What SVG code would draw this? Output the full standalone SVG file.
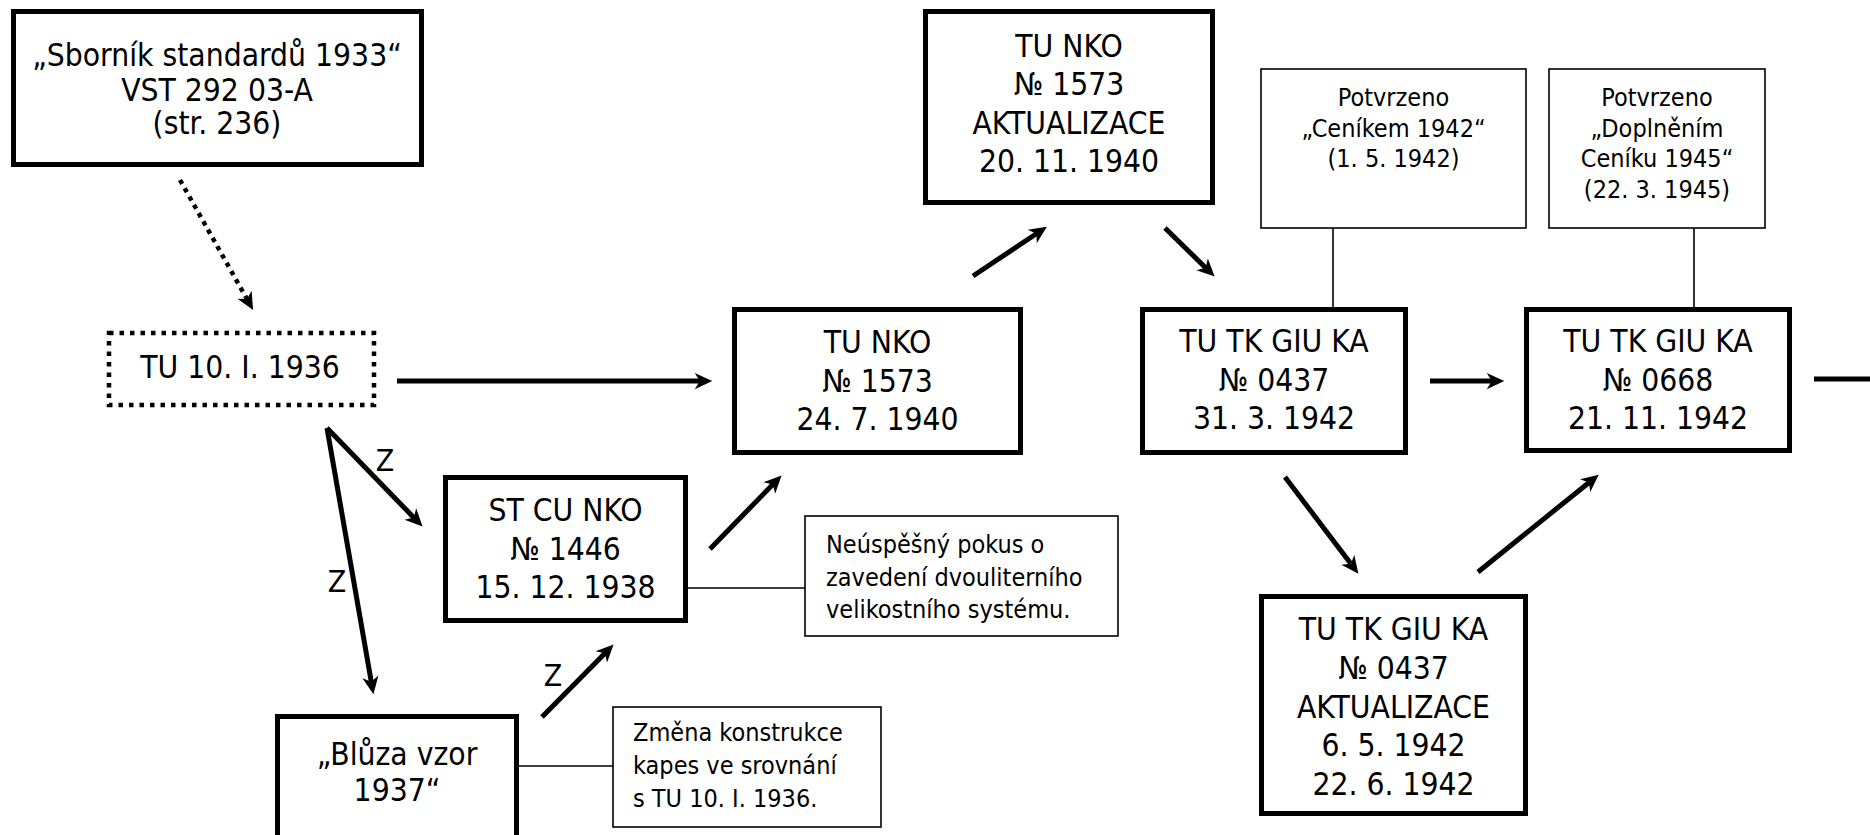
<svg xmlns="http://www.w3.org/2000/svg" width="1870" height="835" viewBox="0 0 1870 835">
<defs>
<style>
text{font-family:"DejaVu Sans Condensed","DejaVu Sans",sans-serif;font-stretch:condensed;fill:#000}
.m{font-size:31.5px;text-anchor:middle}
.n{font-size:25px}
.p{font-size:25px;text-anchor:middle}
.z{font-size:30px;text-anchor:middle}
.thick{fill:#fff;stroke:#000;stroke-width:5}
.thin{fill:#fff;stroke:#000;stroke-width:1.6}
.dot{fill:#fff;stroke:#000;stroke-width:4.5;stroke-dasharray:4.5 6}
.arr{fill:none;stroke:#000;stroke-width:5;marker-end:url(#ah)}
.darr{fill:none;stroke:#000;stroke-width:4.5;stroke-dasharray:4.5 5}
.ln{fill:none;stroke:#000;stroke-width:1.6}
</style>
<marker id="ah" markerUnits="userSpaceOnUse" markerWidth="20" markerHeight="20" viewBox="-1 -8 16 16" refX="5" refY="0" orient="auto">
<path d="M0,-6.5 L14,0 L0,6.5 L4,0 Z" fill="#000"/>
</marker>
</defs>
<rect width="1870" height="835" fill="#fff"/>

<g id="connectors">
<path class="darr" style="marker-end:url(#ah)" d="M180,180 L247.6,300.2"/>
<path class="arr" d="M397,381 L701,381"/>
<path class="arr" d="M327,428 L414.7,518.5"/>
<path class="arr" d="M327,428 L371.5,683.1"/>
<path class="arr" d="M542,717 L605.7,652.4"/>
<path class="arr" d="M710,549 L773.7,483.5"/>
<path class="arr" d="M973,276 L1037.5,233"/>
<path class="arr" d="M1165,228 L1206.6,268.7"/>
<path class="arr" d="M1430,381 L1493,381"/>
<path class="arr" style="marker-end:none" d="M1814,379 L1875,379"/>
<path class="arr" d="M1285,477 L1351.6,564.8"/>
<path class="arr" d="M1478,572 L1590,481.7"/>
<path class="ln" d="M688,588 L805,588"/>
<path class="ln" d="M519,766 L613,766"/>
<path class="ln" d="M1333,228 L1333,307"/>
<path class="ln" d="M1694,228 L1694,307"/>
<text class="z" x="385" y="471">Z</text>
<text class="z" x="337" y="592">Z</text>
<text class="z" x="553" y="686">Z</text>
</g>

<g id="sbornik">
<rect class="thick" x="13.5" y="11.5" width="408" height="153"/>
<text class="m"><tspan x="217" y="66">„Sborník standardů 1933“</tspan><tspan x="217" y="101">VST 292 03-A</tspan><tspan x="217" y="134">(str. 236)</tspan></text>
</g>

<g id="tu1936">
<rect class="dot" x="109" y="333" width="265" height="72"/>
<text class="m" x="240" y="378">TU 10. I. 1936</text>
</g>

<g id="stcunko">
<rect class="thick" x="445.5" y="477.5" width="240" height="143"/>
<text class="m"><tspan x="565.5" y="521">ST CU NKO</tspan><tspan x="565.5" y="559.5">№ 1446</tspan><tspan x="565.5" y="598">15. 12. 1938</tspan></text>
</g>

<g id="bluza">
<rect class="thick" x="277.5" y="716.5" width="239" height="140"/>
<text class="m"><tspan x="397" y="765">„Blůza vzor</tspan><tspan x="397" y="801">1937“</tspan></text>
</g>

<g id="note1">
<rect class="thin" x="805" y="516" width="313" height="120"/>
<text class="n"><tspan x="826" y="553">Neúspěšný pokus o</tspan><tspan x="826" y="585.5">zavedení dvouliterního</tspan><tspan x="826" y="618">velikostního systému.</tspan></text>
</g>

<g id="note2">
<rect class="thin" x="613" y="707" width="268" height="120"/>
<text class="n"><tspan x="633" y="741">Změna konstrukce</tspan><tspan x="633" y="774">kapes ve srovnání</tspan><tspan x="633" y="807">s TU 10. I. 1936.</tspan></text>
</g>

<g id="tunko1940">
<rect class="thick" x="734.5" y="309.5" width="286" height="143"/>
<text class="m"><tspan x="877.5" y="353">TU NKO</tspan><tspan x="877.5" y="391.5">№ 1573</tspan><tspan x="877.5" y="430">24. 7. 1940</tspan></text>
</g>

<g id="tunkoakt">
<rect class="thick" x="925.5" y="11.5" width="287" height="191"/>
<text class="m"><tspan x="1069" y="56.5">TU NKO</tspan><tspan x="1069" y="95">№ 1573</tspan><tspan x="1069" y="133.5">AKTUALIZACE</tspan><tspan x="1069" y="172">20. 11. 1940</tspan></text>
</g>

<g id="tutk0437">
<rect class="thick" x="1142.5" y="309.5" width="263" height="143"/>
<text class="m"><tspan x="1274" y="352">TU TK GIU KA</tspan><tspan x="1274" y="390.5">№ 0437</tspan><tspan x="1274" y="429">31. 3. 1942</tspan></text>
</g>

<g id="potvrzeno1">
<rect class="thin" x="1261" y="69" width="265" height="159"/>
<text class="p"><tspan x="1393.5" y="106">Potvrzeno</tspan><tspan x="1393.5" y="136.5">„Ceníkem 1942“</tspan><tspan x="1393.5" y="167">(1. 5. 1942)</tspan></text>
</g>

<g id="potvrzeno2">
<rect class="thin" x="1549" y="69" width="216" height="159"/>
<text class="p"><tspan x="1657" y="106">Potvrzeno</tspan><tspan x="1657" y="136.5">„Doplněním</tspan><tspan x="1657" y="167">Ceníku 1945“</tspan><tspan x="1657" y="197.5">(22. 3. 1945)</tspan></text>
</g>

<g id="tutk0668">
<rect class="thick" x="1526.5" y="309.5" width="263" height="141"/>
<text class="m"><tspan x="1658" y="352">TU TK GIU KA</tspan><tspan x="1658" y="390.5">№ 0668</tspan><tspan x="1658" y="429">21. 11. 1942</tspan></text>
</g>

<g id="tutk0437akt">
<rect class="thick" x="1261.5" y="596.5" width="264" height="217"/>
<text class="m"><tspan x="1393.5" y="640">TU TK GIU KA</tspan><tspan x="1393.5" y="679">№ 0437</tspan><tspan x="1393.5" y="717.5">AKTUALIZACE</tspan><tspan x="1393.5" y="756">6. 5. 1942</tspan><tspan x="1393.5" y="795">22. 6. 1942</tspan></text>
</g>
</svg>
